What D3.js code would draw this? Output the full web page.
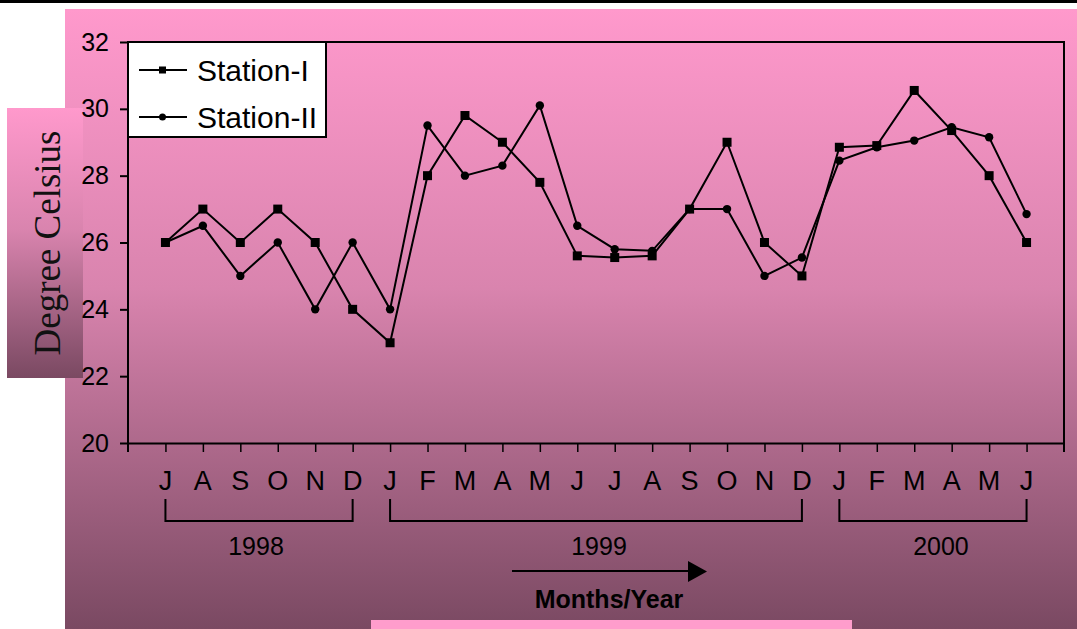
<!DOCTYPE html>
<html>
<head>
<meta charset="utf-8">
<script src="https://cdn.jsdelivr.net/npm/d3@7"></script>
<style>
  body { margin: 0; background: #fff; }
  svg { display: block; font-family: "Liberation Sans", Arial, sans-serif; }
</style>
</head>
<body>
<div id="chart"></div>
<script>
// months from Jul 1998 to Jun 2000
const months = ["J", "A", "S", "O", "N", "D",
    "J", "F", "M", "A", "M", "J", "J", "A", "S", "O", "N", "D",
    "J", "F", "M", "A", "M", "J"];
const station1 = [26, 27, 26, 27, 26, 24,
    23, 28, 29.8, 29, 27.8, 25.6, 25.55, 25.6, 27, 29, 26, 25,
    28.85, 28.9, 30.55, 29.35, 28, 26];
const station2 = [26, 26.5, 25, 26, 24, 26,
    24, 29.5, 28, 28.3, 30.1, 26.5, 25.8, 25.75, 27, 27, 25, 25.55,
    28.45, 28.85, 29.05, 29.45, 29.15, 26.85];
const yTicks = [20, 22, 24, 26, 28, 30, 32];
const years = ["1998", "1999", "2000"];
const yearStart = [0, 6, 18];
const yearEnd = [5, 17, 23];

const W = 1077, H = 629;
const pLeft = 128, pRight = 1064, pTop = 42, pBottom = 443;

const svg = d3.select("#chart")
    .append("svg")
    .attr("width", W)
    .attr("height", H);

const defs = svg.append("defs");
const grad = defs.append("linearGradient")
    .attr("id", "bg").attr("x1", 0).attr("y1", 0).attr("x2", 0).attr("y2", 1);
grad.append("stop").attr("offset", "0%").attr("stop-color", "#ff99cc");
grad.append("stop").attr("offset", "45%").attr("stop-color", "#d984ae");
grad.append("stop").attr("offset", "100%").attr("stop-color", "#7a4962");

// top black bar
svg.append("rect").attr("x", 0).attr("y", 0).attr("width", W).attr("height", 3).attr("fill", "#000");

// background panel
svg.append("rect")
    .attr("x", 65).attr("y", 9)
    .attr("width", W - 65).attr("height", H - 9)
    .attr("fill", "url(#bg)");

// light pink strip at the bottom
svg.append("rect")
    .attr("x", 371).attr("y", 620)
    .attr("width", 481).attr("height", 9)
    .attr("fill", "#ff9dcc");

// y label box
svg.append("rect")
    .attr("x", 7).attr("y", 108)
    .attr("width", 76).attr("height", 270)
    .attr("fill", "url(#bg)");
svg.append("text")
    .attr("transform", "translate(60,243) rotate(-90)")
    .attr("text-anchor", "middle")
    .style("font-family", "'Liberation Serif', 'Times New Roman', serif")
    .style("font-size", "37px")
    .attr("fill", "#111")
    .text("Degree Celsius");

const x = d3.scaleLinear().domain([0, 25]).range([pLeft, pRight]);
const y = d3.scaleLinear().domain([20, 32]).range([pBottom, pTop]);

const g = svg.append("g");

// frame: top and right
g.append("path")
    .attr("d", `M${pLeft},${pTop}H${pRight}V${pBottom + 9}`)
    .attr("fill", "none").attr("stroke", "#000").attr("stroke-width", 2);

// Y axis
const yAxis = g.append("g")
    .attr("transform", `translate(${pLeft},0)`)
    .call(d3.axisLeft(y).tickValues(yTicks).tickSize(8).tickPadding(11).tickSizeOuter(0));
yAxis.select(".domain").attr("stroke-width", 2).attr("d", `M0,${pTop}V${pBottom + 9}`);
yAxis.selectAll(".tick line").attr("stroke-width", 2);
yAxis.selectAll("text").style("font-size", "25px").attr("fill", "#000")
    .attr("font-family", "'Liberation Sans', Arial, sans-serif");

// X axis
const xAxis = g.append("g")
    .attr("transform", `translate(0,${pBottom})`)
    .call(d3.axisBottom(x).tickValues(d3.range(1, 25)).tickSize(9).tickFormat("").tickSizeOuter(0));
xAxis.select(".domain").attr("stroke-width", 2);
xAxis.selectAll(".tick line").attr("stroke-width", 1.5);

g.selectAll(".month")
    .data(months)
    .enter()
    .append("text")
    .attr("class", "month")
    .attr("x", (d, i) => x(i + 1))
    .attr("y", 490)
    .attr("text-anchor", "middle")
    .style("font-size", "27px")
    .text(d => d);

// year brackets
const yearShift = [-3, 3, 8];
years.forEach((yr, k) => {
    const x0 = x(yearStart[k] + 1), x1 = x(yearEnd[k] + 1);
    g.append("path")
        .attr("d", `M${x0},499V521H${x1}V499`)
        .attr("fill", "none").attr("stroke", "#000").attr("stroke-width", 2);
    g.append("text")
        .attr("x", (x0 + x1) / 2 + yearShift[k])
        .attr("y", 555)
        .attr("text-anchor", "middle")
        .style("font-size", "25px")
        .text(yr);
});

// arrow and axis title
g.append("line")
    .attr("x1", 512).attr("x2", 690).attr("y1", 571).attr("y2", 571)
    .attr("stroke", "#000").attr("stroke-width", 2);
g.append("path").attr("d", "M688,561L707,571.5L688,582Z").attr("fill", "#000");
g.append("text")
    .attr("x", 609).attr("y", 608)
    .attr("text-anchor", "middle")
    .style("font-size", "25px")
    .style("font-weight", "bold")
    .text("Months/Year");

// lines
const line = d3.line().x((d, i) => x(i + 1)).y(d => y(d));
[station1, station2].forEach(s => {
    g.append("path")
        .datum(s)
        .attr("d", line)
        .attr("fill", "none")
        .attr("stroke", "#000")
        .attr("stroke-width", 2);
});

g.selectAll(".sq")
    .data(station1)
    .enter()
    .append("rect")
    .attr("class", "sq")
    .attr("x", (d, i) => x(i + 1) - 4.5)
    .attr("y", d => y(d) - 4.5)
    .attr("width", 9).attr("height", 9)
    .attr("fill", "#000");

g.selectAll(".dot")
    .data(station2)
    .enter()
    .append("circle")
    .attr("class", "dot")
    .attr("cx", (d, i) => x(i + 1))
    .attr("cy", d => y(d))
    .attr("r", 4.2)
    .attr("fill", "#000");

// legend
const legend = g.append("g");
legend.append("rect")
    .attr("x", pLeft).attr("y", pTop)
    .attr("width", 198).attr("height", 95)
    .attr("fill", "#fff").attr("stroke", "#000").attr("stroke-width", 2);
const names = ["Station-I", "Station-II"];
names.forEach((n, k) => {
    const ly = 70 + k * 47;
    legend.append("line")
        .attr("x1", 139).attr("x2", 187).attr("y1", ly).attr("y2", ly)
        .attr("stroke", "#000").attr("stroke-width", 2);
    if (k == 0) {
        legend.append("rect").attr("x", 159).attr("y", ly - 3.5).attr("width", 7).attr("height", 7).attr("fill", "#000");
    } else {
        legend.append("circle").attr("cx", 162.5).attr("cy", ly).attr("r", 3.5).attr("fill", "#000");
    }
    legend.append("text")
        .attr("x", 197).attr("y", ly + 11)
        .style("font-size", "30px")
        .text(n);
});
</script>
</body>
</html>
